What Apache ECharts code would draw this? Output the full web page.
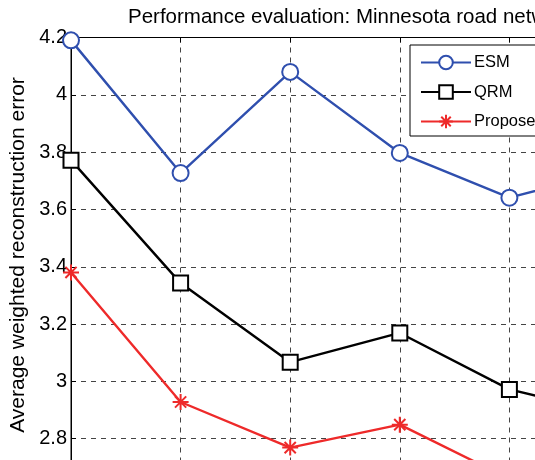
<!DOCTYPE html>
<html>
<head>
<meta charset="utf-8">
<script src="https://cdn.jsdelivr.net/npm/echarts@6/dist/echarts.min.js"></script>
<style>
  html, body { margin: 0; padding: 0; background: #fff; }
  #chart { width: 535px; height: 460px; }
</style>
</head>
<body>
<div id="chart"></div>
<script>
// x positions (1..6), last one lies past the right edge of the picture
const xValues = [1, 2, 3, 4, 5, 6];
const esm = [4.19, 3.727, 4.08, 3.797, 3.641, 3.74];
const qrm = [3.772, 3.343, 3.067, 3.169, 2.972, 2.88];
const proposed = [3.38, 2.928, 2.769, 2.849, 2.66];
const seriesNames = ["ESM", "QRM", "Proposed"];

const pairs = (ys) => ys.map((y, i) => [xValues[i], y]);

const starPath = "path://M0,-10L0,10M-10,0L10,0M-7,-7L7,7M-7,7L7,-7";
const gridLine = { show: true, lineStyle: { color: "#444", type: [5, 5], width: 1 } };

const chart = echarts.init(document.getElementById("chart"));
chart.setOption({
  animation: false,
  backgroundColor: "#fff",
  textStyle: { fontFamily: "Liberation Sans, Arial, sans-serif" },
  title: {
    text: "Performance evaluation: Minnesota road network",
    left: 123,
    top: 2,
    textStyle: { fontSize: 20.5, fontWeight: "normal", color: "#000" }
  },
  graphic: [
    {
      type: "text",
      x: 8,
      y: 255,
      rotation: Math.PI / 2,
      style: {
        text: "Average weighted reconstruction error",
        fontSize: 21,
        fill: "#000",
        fontFamily: "Liberation Sans, Arial, sans-serif",
        align: "center",
        verticalAlign: "top"
      }
    }
  ],
  legend: {
    orient: "vertical",
    left: 410,
    top: 45,
    padding: [9, 80, 6, 10],
    itemWidth: 50,
    itemHeight: 17,
    itemGap: 12.5,
    backgroundColor: "#fff",
    borderColor: "#000",
    borderWidth: 1,
    borderRadius: 0,
    textStyle: { fontSize: 16.5, color: "#000", padding: [0, 0, 0, -2] },
    data: seriesNames
  },
  grid: {
    left: 71,
    top: 37.5,
    right: -84,
    bottom: -36,
    outerBoundsMode: "none",
    show: true,
    borderColor: "#000",
    borderWidth: 1
  },
  xAxis: [
    {
      type: "value",
      min: 1,
      max: 6,
      interval: 1,
      axisLine: { show: true, lineStyle: { color: "#000" } },
      axisTick: { inside: true, length: 5 },
      axisLabel: { show: false },
      splitLine: gridLine
    },
    {
      type: "value",
      position: "top",
      min: 1,
      max: 6,
      interval: 1,
      axisLine: { show: true, lineStyle: { color: "#000" } },
      axisTick: { inside: true, length: 5, lineStyle: { color: "#000" } },
      axisLabel: { show: false },
      splitLine: { show: false }
    }
  ],
  yAxis: {
    type: "value",
    min: 2.6,
    max: 4.2,
    interval: 0.2,
    axisLine: { show: true, lineStyle: { color: "#000" } },
    axisTick: { show: true, inside: true, length: 5, lineStyle: { color: "#000" } },
    axisLabel: { fontSize: 20, color: "#000", margin: 4 },
    splitLine: gridLine
  },
  series: [
    {
      name: "ESM",
      type: "line",
      data: pairs(esm),
      symbol: "emptyCircle",
      symbolSize: 16,
      lineStyle: { color: "#2f4fae", width: 2.4 },
      itemStyle: { color: "#2f4fae", borderColor: "#2f4fae", borderWidth: 2.5 }
    },
    {
      name: "QRM",
      type: "line",
      data: pairs(qrm),
      symbol: "emptyRect",
      symbolSize: 15,
      lineStyle: { color: "#000", width: 2.4 },
      itemStyle: { color: "#000", borderColor: "#000", borderWidth: 2.5 }
    },
    {
      name: "Proposed",
      type: "line",
      data: pairs(proposed),
      symbol: starPath,
      symbolSize: 16,
      lineStyle: { color: "#ee2a2a", width: 2.4 },
      itemStyle: { color: "#ee2a2a", borderColor: "#ee2a2a", borderWidth: 2 }
    }
  ]
});
</script>
</body>
</html>
